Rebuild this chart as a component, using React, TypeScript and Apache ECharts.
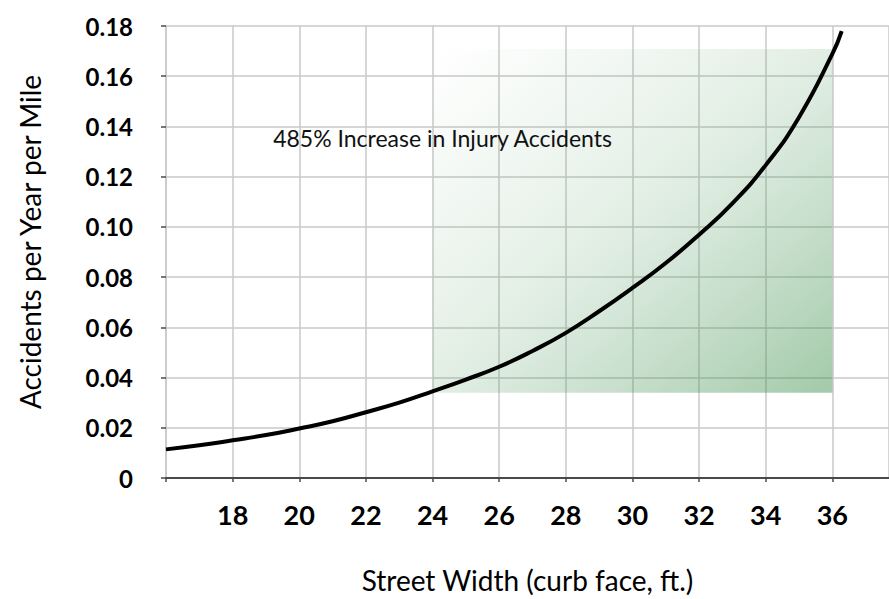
import React, { useEffect, useRef } from "react";
import * as echarts from "echarts";

const streetWidth = [16, 17, 18, 19, 20, 21, 22, 23, 24, 25, 26, 27, 28, 29, 30, 31, 32, 33, 34, 35, 36, 36.28];
const accidents = [
  0.0114, 0.013, 0.015, 0.0171, 0.0197, 0.0226, 0.0262, 0.03, 0.0345, 0.0392, 0.0443,
  0.0506, 0.0578, 0.0664, 0.0757, 0.0856, 0.0969, 0.1094, 0.1246, 0.1437, 0.1689, 0.178,
];
const highlightX = [24, 36];
const highlightY = [0.0339, 0.1708];
const annotationText = "485% Increase in Injury Accidents";
const annotationCoord = [24.3, 0.1352];
const xTitle = "Street Width (curb face, ft.)";
const yTitle = "Accidents per Year per Mile";

const FONT = "Lato, 'Noto Sans', sans-serif";

export default function App() {
  const ref = useRef<HTMLDivElement>(null);
  useEffect(() => {
    if (!ref.current) return;
    const chart = echarts.init(ref.current, undefined, { renderer: "svg" });
    const data = streetWidth.map((x, i) => [x, accidents[i]]);
    chart.setOption({
      animation: false,
      backgroundColor: "#ffffff",
      grid: { left: 166, top: 26, right: 0, bottom: 110, containLabel: false },
      xAxis: {
        type: "value",
        min: 16,
        max: 37.7,
        interval: 2,
        name: xTitle,
        nameLocation: "middle",
        nameGap: 88,
        nameTextStyle: { fontFamily: FONT, fontSize: 28, color: "#000" },
        axisLine: { show: true, lineStyle: { color: "#4a4a4a", width: 2 } },
        axisTick: { show: true, length: 4, lineStyle: { color: "#4a4a4a", width: 1.5 } },
        axisLabel: {
          fontFamily: FONT,
          fontSize: 27,
          fontWeight: "bold",
          color: "#000",
          margin: 23,
          showMaxLabel: false,
          formatter: (v: number) => (v === 16 || v > 36 ? "" : String(v)),
        },
        splitLine: { show: true, lineStyle: { color: "#c8c8c8", width: 1.5 } },
      },
      yAxis: {
        type: "value",
        min: 0,
        max: 0.18,
        interval: 0.02,
        name: yTitle,
        nameLocation: "middle",
        nameGap: 122,
        nameTextStyle: { fontFamily: FONT, fontSize: 28, color: "#000", padding: [0, 0, 0, 20] },
        axisLine: { show: true, lineStyle: { color: "#c8c8c8", width: 1.5 } },
        axisTick: { show: true, length: 5, lineStyle: { color: "#4a4a4a", width: 1.5 } },
        axisLabel: {
          fontFamily: FONT,
          fontSize: 24,
          fontWeight: "bold",
          color: "#000",
          margin: 33,
          formatter: (v: number) => (v === 0 ? "0" : v.toFixed(2)),
        },
        splitLine: { show: true, lineStyle: { color: "#c8c8c8", width: 1.5 } },
      },
      series: [
        {
          type: "line",
          data,
          smooth: 0.5,
          showSymbol: false,
          symbol: "none",
          lineStyle: { color: "#000", width: 4 },
          z: 5,
          markArea: {
            silent: true,
            itemStyle: {
              color: new echarts.graphic.LinearGradient(0, 0, 1, 1, [
                { offset: 0, color: "rgba(120,175,130,0)" },
                { offset: 0.5, color: "rgba(90,160,105,0.18)" },
                { offset: 1, color: "rgba(61,143,75,0.48)" },
              ]),
            },
            data: [[{ coord: [highlightX[0], highlightY[1]] }, { coord: [highlightX[1], highlightY[0]] }]],
          },
          markPoint: {
            silent: true,
            symbol: "circle",
            symbolSize: 1,
            itemStyle: { color: "rgba(0,0,0,0)" },
            label: {
              show: true,
              position: "inside",
              formatter: annotationText,
              fontFamily: FONT,
              fontSize: 23,
              color: "#111",
            },
            data: [{ coord: annotationCoord }],
          },
        },
      ],
    });
    return () => chart.dispose();
  }, []);
  return (
    <div
      ref={ref}
      style={{ position: "fixed", left: 0, top: 0, width: 889, height: 599, background: "#fff" }}
    />
  );
}
